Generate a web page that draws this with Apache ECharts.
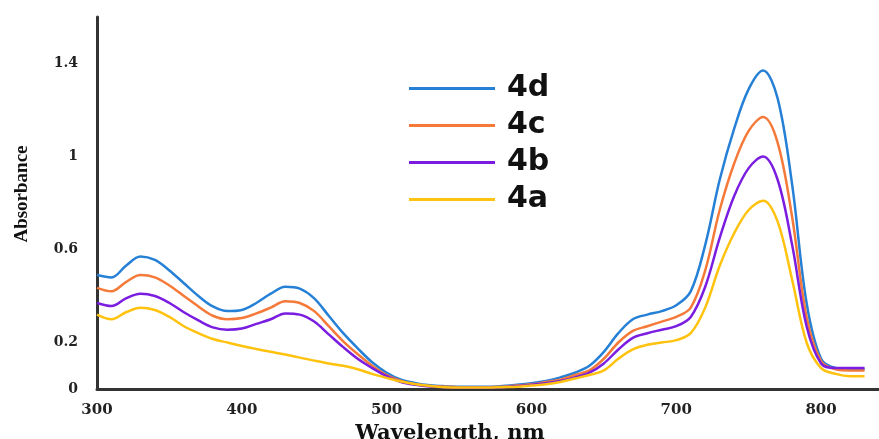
<!DOCTYPE html>
<html>
<head>
<meta charset="utf-8">
<script src="https://cdn.jsdelivr.net/npm/echarts@6/dist/echarts.min.js"></script>
<style>
  html, body { margin: 0; padding: 0; background: #fff; }
  #chart { width: 879px; height: 439px; }
</style>
</head>
<body>
<div id="chart"></div>
<script>
// wavelength, nm (every 10 nm)
var wavelengths = [300, 310, 320, 330, 340, 350, 360, 370, 380, 390, 400, 410, 420, 430, 440, 450, 460, 470, 480, 490, 500, 510, 520, 530, 540, 550, 560, 570, 580, 590, 600, 610, 620, 630, 640, 650, 660, 670, 680, 690, 700, 710, 720, 730, 740, 750, 760, 770, 780, 790, 800, 810, 820, 830];

var abs4d = [0.49, 0.48, 0.53, 0.57, 0.555, 0.51, 0.455, 0.40, 0.355, 0.335, 0.34, 0.37, 0.41, 0.44, 0.432, 0.39, 0.315, 0.24, 0.175, 0.115, 0.07, 0.04, 0.025, 0.016, 0.012, 0.01, 0.01, 0.01, 0.013, 0.018, 0.025, 0.035, 0.05, 0.07, 0.10, 0.16, 0.24, 0.30, 0.32, 0.335, 0.36, 0.42, 0.62, 0.90, 1.12, 1.29, 1.37, 1.25, 0.88, 0.37, 0.13, 0.09, 0.085, 0.085];
var abs4c = [0.435, 0.42, 0.46, 0.49, 0.48, 0.445, 0.40, 0.355, 0.315, 0.30, 0.305, 0.325, 0.35, 0.377, 0.37, 0.335, 0.27, 0.205, 0.15, 0.10, 0.06, 0.035, 0.02, 0.013, 0.01, 0.008, 0.008, 0.008, 0.01, 0.015, 0.02, 0.03, 0.04, 0.06, 0.08, 0.13, 0.20, 0.25, 0.27, 0.29, 0.31, 0.35, 0.51, 0.77, 0.97, 1.11, 1.17, 1.06, 0.74, 0.31, 0.12, 0.085, 0.08, 0.08];
var abs4b = [0.37, 0.357, 0.39, 0.41, 0.40, 0.37, 0.33, 0.295, 0.265, 0.255, 0.26, 0.28, 0.30, 0.325, 0.32, 0.29, 0.235, 0.18, 0.13, 0.09, 0.055, 0.03, 0.018, 0.011, 0.008, 0.006, 0.006, 0.006, 0.008, 0.012, 0.018, 0.025, 0.035, 0.05, 0.07, 0.11, 0.17, 0.22, 0.24, 0.255, 0.27, 0.31, 0.44, 0.65, 0.83, 0.95, 1.00, 0.90, 0.62, 0.27, 0.11, 0.09, 0.09, 0.09];
var abs4a = [0.32, 0.30, 0.33, 0.35, 0.34, 0.31, 0.27, 0.24, 0.215, 0.20, 0.185, 0.172, 0.16, 0.148, 0.135, 0.122, 0.11, 0.10, 0.085, 0.065, 0.048, 0.032, 0.02, 0.013, 0.008, 0.006, 0.006, 0.006, 0.008, 0.01, 0.015, 0.02, 0.03, 0.045, 0.06, 0.08, 0.13, 0.17, 0.19, 0.20, 0.21, 0.24, 0.35, 0.53, 0.67, 0.77, 0.81, 0.72, 0.47, 0.20, 0.09, 0.065, 0.055, 0.055];

var yLabels = ['0', '0.2', '0.6', '1', '1.4'];

function pairs(vals) {
    return wavelengths.map(function (w, i) { return [w, vals[i]]; });
}

function line(name, vals, color) {
    return {
        name: name,
        type: 'line',
        data: pairs(vals),
        smooth: 0.35,
        showSymbol: false,
        lineStyle: { width: 2.5, color: color },
        itemStyle: { color: color }
    };
}

var serif = '"DejaVu Serif", "Liberation Serif", serif';
var times = '"Liberation Serif", "DejaVu Serif", serif';

var option = {
    backgroundColor: '#fff',
    animation: false,
    grid: { left: 97, right: 0, top: 17, bottom: 50, containLabel: false, outerBoundsMode: 'none' },
    legend: {
        orient: 'vertical',
        left: 404,
        top: 67,
        icon: 'rect',
        itemWidth: 86,
        itemHeight: 3,
        itemGap: 4,
        data: ['4d', '4c', '4b', '4a'],
        textStyle: {
            fontFamily: '"DejaVu Sans", "Liberation Sans", sans-serif',
            fontWeight: 'bold',
            fontSize: 30,
            lineHeight: 33,
            color: '#111',
            padding: [0, 0, 0, 7]
        }
    },
    xAxis: {
        type: 'value',
        min: 300,
        max: 840,
        interval: 100,
        name: 'Wavelength, nm',
        nameLocation: 'middle',
        nameGap: 31,
        nameTextStyle: { fontFamily: serif, fontWeight: 'bold', fontSize: 21, color: '#111', padding: [0, 76, 0, 0] },
        axisLine: { show: true, lineStyle: { color: '#333', width: 3 } },
        axisTick: { show: false },
        splitLine: { show: false },
        axisLabel: {
            fontFamily: serif, fontWeight: 'bold', fontSize: 15, color: '#222', margin: 14,
            formatter: function (v) { return v <= 800 ? String(v) : ''; }
        }
    },
    yAxis: {
        type: 'value',
        min: 0,
        max: 1.6,
        interval: 0.2,
        name: 'Absorbance',
        nameLocation: 'middle',
        nameGap: 65,
        nameTextStyle: { fontFamily: times, fontWeight: 'bold', fontSize: 19, color: '#111', padding: [0, 0, 0, 18] },
        axisLine: { show: true, lineStyle: { color: '#333', width: 3 } },
        axisTick: { show: false },
        splitLine: { show: false },
        axisLabel: {
            fontFamily: serif, fontWeight: 'bold', fontSize: 14, color: '#222', margin: 19,
            formatter: function (v) {
                var s = String(Math.round(v * 10) / 10);
                return yLabels.indexOf(s) >= 0 ? s : '';
            }
        }
    },
    series: [
        line('4d', abs4d, '#2580d6'),
        line('4c', abs4c, '#f57a3a'),
        line('4b', abs4b, '#7a1de0'),
        line('4a', abs4a, '#ffc20e')
    ]
};

var myChart = echarts.init(document.getElementById('chart'));
myChart.setOption(option);
</script>
</body>
</html>
